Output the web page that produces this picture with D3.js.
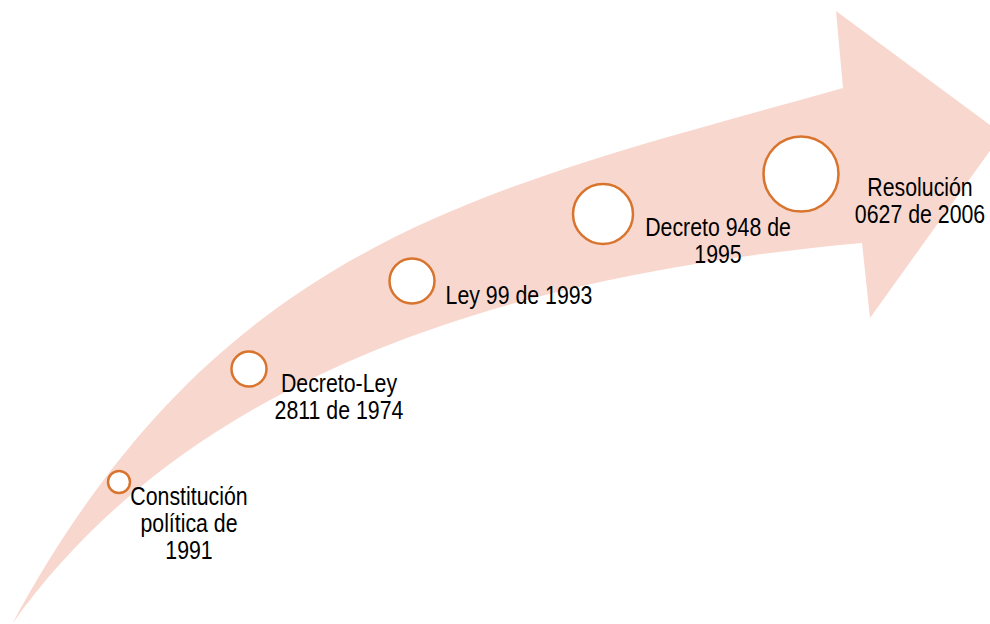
<!DOCTYPE html>
<html>
<head>
<meta charset="utf-8">
<script src="https://cdn.jsdelivr.net/npm/d3@7"></script>
<style>
  html, body { margin: 0; padding: 0; background: #fff; }
  svg { display: block; }
  .label { font-family: "Liberation Sans", Arial, sans-serif; font-size: 26px; fill: #000; }
</style>
</head>
<body>
<div class="chart"></div>
<script>
// timeline steps, in the order they appear along the arrow
const steps = [0, 1, 2, 3, 4];
const labels = [
  ['Constitución', 'política de', '1991'],
  ['Decreto-Ley', '2811 de 1974'],
  ['Ley 99 de 1993'],
  ['Decreto 948 de', '1995'],
  ['Resolución', '0627 de 2006']
];

const w = 990;
const h = 624;

const svg = d3.select('.chart')
  .append('svg')
  .attr('width', w)
  .attr('height', h);

// curved arrow: upper edge, head, lower edge back to the tail
const arrow = d3.path();
arrow.moveTo(12, 624);
arrow.bezierCurveTo(220, 240, 480, 190, 843, 88);
arrow.lineTo(836, 11);
arrow.lineTo(1002, 134);
arrow.lineTo(870, 318);
arrow.lineTo(862, 243);
arrow.bezierCurveTo(542, 272, 200, 360, 12, 624);
arrow.closePath();

svg.append('path')
  .attr('class', 'arrow')
  .attr('d', arrow.toString())
  .attr('fill', '#f8d8ce');

// circles grow and climb along the arrow
const xScale = d3.scaleLinear().domain(steps).range([119, 249, 412, 603, 801]);
const yScale = d3.scaleLinear().domain(steps).range([482, 369, 281, 214, 174]);
const rScale = d3.scaleLinear().domain(steps).range([11, 17.5, 22.5, 30, 37.5]);

svg.selectAll('circle')
  .data(steps)
  .enter()
  .append('circle')
  .attr('cx', (d) => xScale(d))
  .attr('cy', (d) => yScale(d))
  .attr('r', (d) => rScale(d))
  .attr('fill', '#fff')
  .attr('stroke', '#d9742e')
  .attr('stroke-width', 2.5);

// label anchor (centre x, first baseline); text squeezed to look like a narrow face
const lx = d3.scaleLinear().domain(steps).range([189, 339, 519, 718, 920]);
const ly = d3.scaleLinear().domain(steps).range([505, 392, 304, 236, 196]);
const lineGap = 27;

const groups = svg.selectAll('text.label')
  .data(steps)
  .enter()
  .append('text')
  .attr('class', 'label')
  .attr('text-anchor', 'middle')
  .attr('transform', (d) => `translate(${lx(d)},0) scale(0.82,1)`);

groups.selectAll('tspan')
  .data((d) => labels[d].map((t, i) => ({ t, i, d })))
  .enter()
  .append('tspan')
  .attr('x', 0)
  .attr('y', (o) => ly(o.d) + o.i * lineGap)
  .text((o) => o.t);
</script>
</body>
</html>
